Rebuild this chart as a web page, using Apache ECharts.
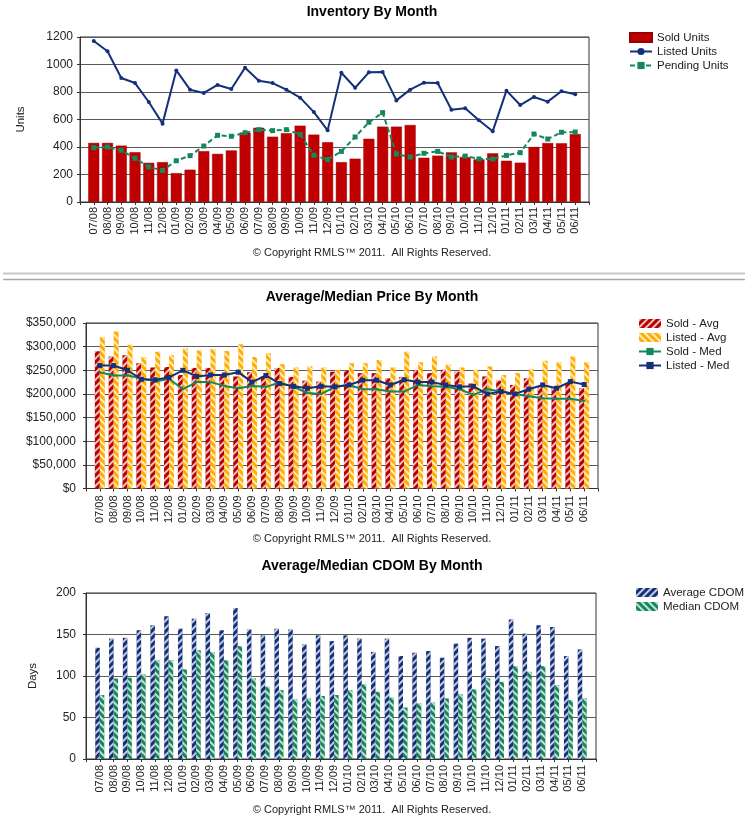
<!DOCTYPE html>
<html><head><meta charset="utf-8">
<script src="https://cdn.jsdelivr.net/npm/echarts@6/dist/echarts.min.js"></script>
<style>html,body{margin:0;padding:0;background:#fff}#c{width:748px;height:821px}</style>
</head><body><div id="c"></div>
<script>
const months = ['07/08','08/08','09/08','10/08','11/08','12/08',
  '01/09','02/09','03/09','04/09','05/09','06/09','07/09','08/09','09/09','10/09','11/09','12/09',
  '01/10','02/10','03/10','04/10','05/10','06/10','07/10','08/10','09/10','10/10','11/10','12/10',
  '01/11','02/11','03/11','04/11','05/11','06/11'];

const soldUnits    = [430,430,410,362,285,290,210,235,370,350,375,505,540,475,500,555,490,435,290,315,460,548,548,560,322,337,361,327,310,354,300,286,400,429,427,494];
const listedUnits  = [1171,1096,902,865,727,570,957,817,793,851,822,977,882,865,817,759,654,521,940,831,943,945,739,817,868,865,671,681,594,514,810,705,764,730,805,783];
const pendingUnits = [395,400,376,318,255,230,300,337,407,485,478,504,526,519,526,492,340,308,368,473,580,650,349,327,354,368,327,334,313,313,339,359,494,458,507,509];

const soldAvg   = [290000,279000,282000,265000,256000,257000,240000,255000,255000,241000,237000,246000,237000,255000,236000,228000,226000,247000,249000,244000,244000,233000,236000,250000,244000,251000,247000,222000,237000,228000,219000,233000,217000,213000,223000,212000];
const listedAvg = [320000,332000,304000,278000,289000,282000,296000,292000,295000,291000,305000,278000,286000,263000,256000,258000,256000,251000,265000,265000,272000,256000,289000,267000,279000,262000,256000,251000,258000,240000,244000,253000,270000,267000,279000,267000];
const soldMed   = [246000,239000,239000,233000,226000,232000,210000,225000,225000,217000,212000,217000,215000,224000,215000,202000,200000,215000,219000,210000,210000,205000,205000,219000,216000,215000,210000,198000,210000,205000,200000,195000,191000,190000,190000,185000];
const listedMed = [260000,260000,250000,231000,230000,235000,250000,237000,240000,240000,246000,225000,239000,222000,216000,212000,216000,215000,219000,229000,229000,219000,230000,225000,225000,219000,215000,216000,200000,205000,200000,210000,219000,212000,226000,220000];

const avgCdom = [134,145,146,155,161,172,157,169,176,155,182,156,149,157,156,138,149,142,149,145,129,145,124,128,130,122,139,146,145,136,168,151,161,159,124,132];
const medCdom = [77,97,98,102,119,119,108,131,129,119,136,97,87,83,72,73,76,77,83,90,81,74,62,67,68,73,78,84,97,93,112,105,112,89,71,73];

const copyright = '\u00A9 Copyright RMLS\u2122 2011.  All Rights Reserved.';
const titles = ['Inventory By Month', 'Average/Median Price By Month', 'Average/Median CDOM By Month'];

const FONT = "'Liberation Sans', Arial, sans-serif";
const RED = '#C00000', ORANGE = '#FFAE00', NAVY = '#14307A', GREEN = '#16875B';
const GRIDC = '#5a5a5a', AXC = '#333';

const cats = [''].concat(months, ['']);
const pad = a => ['-'].concat(a, ['-']);

function xAxis(i, margin) {
  return {
    type: 'category', gridIndex: i, data: cats, boundaryGap: false,
    axisLine: { show: true, lineStyle: { color: AXC, width: 1 } },
    axisTick: { show: true, interval: 0, length: 3, lineStyle: { color: AXC } },
    axisLabel: { interval: 0, rotate: 90, fontSize: 11, margin: margin, color: '#222', fontFamily: FONT },
    splitLine: { show: false }
  };
}
function yAxis(i, max, interval, extra) {
  return Object.assign({
    type: 'value', gridIndex: i, min: 0, max: max, interval: interval,
    axisLine: { show: true, lineStyle: { color: AXC } },
    axisTick: { show: true, length: 3, lineStyle: { color: AXC } },
    axisLabel: { fontSize: 12, color: '#222', fontFamily: FONT, margin: 7, formatter: v => String(v) },
    splitLine: { show: true, lineStyle: { color: GRIDC, width: 1 } }
  }, extra || {});
}
const hatch = (rot) => ({ symbol: 'rect', symbolSize: 1, dashArrayX: [[1, 0]], dashArrayY: [2, 3], rotation: rot, color: 'rgba(255,255,255,0.75)' });

const gridBase = { show: true, borderColor: AXC, borderWidth: 1, backgroundColor: '#fff', containLabel: false, outerBoundsMode: 'none' };

const legendBase = {
  orient: 'vertical', itemWidth: 22, itemHeight: 9, itemGap: 1,
  textStyle: { fontSize: 11.5, color: '#222', fontFamily: FONT, lineHeight: 13 },
  selectedMode: false
};

const chart = echarts.init(document.getElementById('c'), null, { renderer: 'canvas' });
chart.setOption({
  animation: false,
  backgroundColor: '#fff',
  textStyle: { fontFamily: FONT },
  grid: [
    Object.assign({ left: 80, top: 37, width: 509, height: 165 }, gridBase),
    Object.assign({ left: 86, top: 323, width: 512, height: 165.5 }, gridBase),
    Object.assign({ left: 86, top: 593, width: 510, height: 166 }, gridBase)
  ],
  xAxis: [xAxis(0, 5), xAxis(1, 7), xAxis(2, 6)],
  yAxis: [
    yAxis(0, 1200, 200, { name: 'Units', nameLocation: 'middle', nameGap: 53, nameRotate: 90,
      nameTextStyle: { fontSize: 11.5, color: '#222', fontFamily: FONT } }),
    yAxis(1, 350000, 50000, { axisLabel: { fontSize: 12, color: '#222', fontFamily: FONT, margin: 10,
      formatter: v => '$' + String(v).replace(/\B(?=(\d{3})+(?!\d))/g, ',') } }),
    yAxis(2, 200, 50, { name: 'Days', nameLocation: 'middle', nameGap: 47, nameRotate: 90,
      axisLabel: { fontSize: 12, color: '#222', fontFamily: FONT, margin: 10, formatter: v => String(v) },
      nameTextStyle: { fontSize: 11.5, color: '#222', fontFamily: FONT } })
  ],
  legend: [
    Object.assign({ left: 624, top: 26, data: [{ name: 'Sold Units', icon: 'rect' }, 'Listed Units', 'Pending Units'] }, legendBase),
    Object.assign({ left: 633, top: 312, data: [{ name: 'Sold - Avg', icon: 'rect' }, { name: 'Listed - Avg', icon: 'rect' }, 'Sold - Med', 'Listed - Med'] }, legendBase),
    Object.assign({ left: 631, top: 581, data: [{ name: 'Average CDOM', icon: 'rect' }, { name: 'Median CDOM', icon: 'rect' }] }, legendBase)
  ],
  graphic: [
    { type: 'text', x: 372, y: 12, style: { text: titles[0], font: 'bold 14px ' + FONT, fill: '#000', align: 'center', verticalAlign: 'middle', textAlign: 'center', textVerticalAlign: 'middle' } },
    { type: 'text', x: 372, y: 253, style: { text: copyright, font: '11px ' + FONT, fill: '#222', align: 'center', verticalAlign: 'middle', textAlign: 'center', textVerticalAlign: 'middle' } },
    { type: 'line', shape: { x1: 3, y1: 273.5, x2: 745, y2: 273.5 }, style: { stroke: '#c8c8c8', lineWidth: 2 } },
    { type: 'line', shape: { x1: 3, y1: 279.5, x2: 745, y2: 279.5 }, style: { stroke: '#a8a8a8', lineWidth: 1.5 } },
    { type: 'text', x: 372, y: 297, style: { text: titles[1], font: 'bold 14px ' + FONT, fill: '#000', align: 'center', verticalAlign: 'middle', textAlign: 'center', textVerticalAlign: 'middle' } },
    { type: 'text', x: 372, y: 539, style: { text: copyright, font: '11px ' + FONT, fill: '#222', align: 'center', verticalAlign: 'middle', textAlign: 'center', textVerticalAlign: 'middle' } },
    { type: 'text', x: 372, y: 566, style: { text: titles[2], font: 'bold 14px ' + FONT, fill: '#000', align: 'center', verticalAlign: 'middle', textAlign: 'center', textVerticalAlign: 'middle' } },
    { type: 'text', x: 372, y: 810, style: { text: copyright, font: '11px ' + FONT, fill: '#222', align: 'center', verticalAlign: 'middle', textAlign: 'center', textVerticalAlign: 'middle' } }
  ],
  series: [
    { name: 'Sold Units', type: 'bar', xAxisIndex: 0, yAxisIndex: 0, data: pad(soldUnits), barWidth: 11,
      itemStyle: { color: RED, borderColor: '#9a0000', borderWidth: 0.5 } },
    { name: 'Listed Units', type: 'line', xAxisIndex: 0, yAxisIndex: 0, data: pad(listedUnits),
      symbol: 'circle', symbolSize: 4, showSymbol: true, lineStyle: { color: NAVY, width: 2 }, itemStyle: { color: NAVY } },
    { name: 'Pending Units', type: 'line', xAxisIndex: 0, yAxisIndex: 0, data: pad(pendingUnits),
      symbol: 'rect', symbolSize: 5, showSymbol: true, lineStyle: { color: GREEN, width: 2, type: [5, 3] }, itemStyle: { color: GREEN } },

    { name: 'Sold - Avg', type: 'bar', xAxisIndex: 1, yAxisIndex: 1, data: pad(soldAvg), barWidth: 5, barGap: '0%',
      itemStyle: { color: '#B80000', decal: hatch(-Math.PI / 4) } },
    { name: 'Listed - Avg', type: 'bar', xAxisIndex: 1, yAxisIndex: 1, data: pad(listedAvg), barWidth: 5, barGap: '0%',
      itemStyle: { color: ORANGE, decal: hatch(Math.PI / 4) } },
    { name: 'Sold - Med', type: 'line', xAxisIndex: 1, yAxisIndex: 1, data: pad(soldMed),
      symbol: 'rect', symbolSize: 2, showSymbol: true, lineStyle: { color: GREEN, width: 2 }, itemStyle: { color: GREEN } },
    { name: 'Listed - Med', type: 'line', xAxisIndex: 1, yAxisIndex: 1, data: pad(listedMed),
      symbol: 'rect', symbolSize: 5, showSymbol: true, lineStyle: { color: NAVY, width: 2 }, itemStyle: { color: NAVY } },

    { name: 'Average CDOM', type: 'bar', xAxisIndex: 2, yAxisIndex: 2, data: pad(avgCdom), barWidth: 4.5, barGap: '0%',
      itemStyle: { color: NAVY, decal: hatch(-Math.PI / 4) } },
    { name: 'Median CDOM', type: 'bar', xAxisIndex: 2, yAxisIndex: 2, data: pad(medCdom), barWidth: 4.5, barGap: '0%',
      itemStyle: { color: GREEN, decal: hatch(Math.PI / 4) } }
  ]
});
</script></body></html>
